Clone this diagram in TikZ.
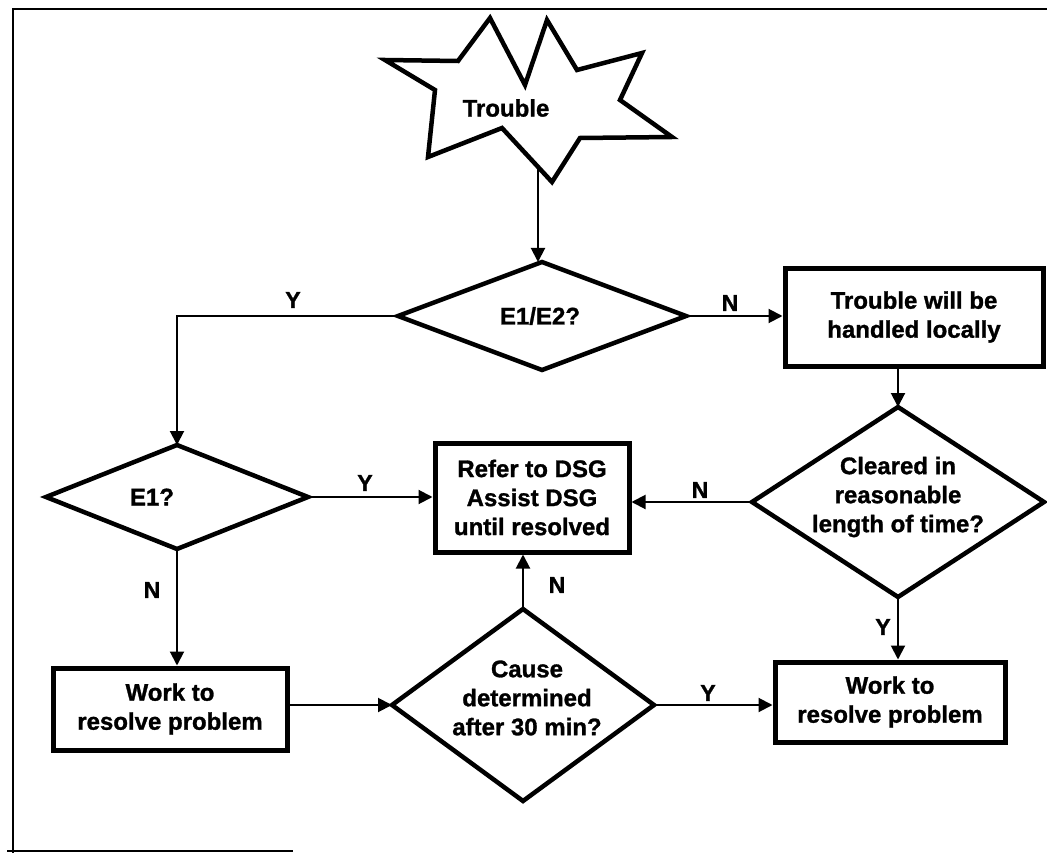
\documentclass[tikz,border=0pt]{standalone}
\usepackage{fontspec}
\setmainfont{Liberation Sans}[BoldFeatures={FakeBold=1.2}]
\usetikzlibrary{shapes.geometric,arrows.meta}
\begin{document}
\begin{tikzpicture}[x=1pt,y=-1pt,
  txt/.style={font=\fontsize{24}{29}\selectfont\bfseries, align=center, inner sep=0pt},
  lbl/.style={font=\fontsize{23}{26}\selectfont\bfseries, inner sep=0pt},
  procbox/.style={draw, line width=5pt, inner sep=0pt},
  decision/.style={draw, diamond, line width=4.5pt, inner sep=0pt, outer sep=0pt},
  arr/.style={line width=2pt, -{Triangle[length=14pt,width=14pt]}},
  conn/.style={line width=2pt}]
\useasboundingbox (0,0) rectangle (1047,853);

% page frame
\draw[line width=2.5pt] (13,853) -- (13,9) -- (1047,9);
\draw[line width=2.5pt] (7,851) -- (293,851);

% start: starburst
\draw[line width=4.5pt, line join=miter]
  (385,60) -- (458,61) -- (490,18) -- (525,85) -- (547,20) -- (577,70)
  -- (642,53) -- (620,100) -- (672,137) -- (580,138) -- (552,182)
  -- (502,128) -- (428,157) -- (435,90) -- cycle;
\node[txt] (trouble) at (506,108) {Trouble};
\coordinate (starbot) at (538,167);

% decisions
\node[decision, minimum width=288pt, minimum height=108pt] (d12) at (542,316) {};
\node[txt] (d12t) at (540,316) {E1/E2?};
\node[decision, minimum width=262pt, minimum height=104pt] (de1) at (177,497) {};
\node[txt] (de1t) at (152,497) {E1?};
\node[decision, minimum width=292pt, minimum height=190pt] (dclr) at (898,502) {};
\node[txt] (dclrt) at (898,497) {Cleared in\\reasonable\\length of time?};
\node[decision, minimum width=262pt, minimum height=192pt] (dcause) at (523,705) {};
\node[txt] (dcauset) at (527,698) {Cause\\determined\\after 30 min?};

% process boxes
\node[procbox, minimum width=258pt, minimum height=98pt] (local) at (914,317) {};
\node[txt] (localt) at (local) {Trouble will be\\handled locally};
\node[procbox, minimum width=194pt, minimum height=109pt] (refer) at (532,497.5) {};
\node[txt] (refert) at (refer) {Refer to DSG\\Assist DSG\\until resolved};
\node[procbox, minimum width=234pt, minimum height=82pt] (workL) at (170,709) {};
\node[txt] (workLt) at (workL) {Work to\\resolve problem};
\node[procbox, minimum width=230pt, minimum height=80pt] (workR) at (890,702) {};
\node[txt] (workRt) at (workR) {Work to\\resolve problem};

% connectors
\draw[arr] (starbot) -- (starbot |- d12.north);
\draw[arr] (d12.west) -| (de1.north);
\node[lbl] (ly1) at (293,300) {Y};
\draw[arr] (d12.east) -- (d12.east -| local.west);
\node[lbl] (ln1) at (730,303) {N};
\draw[arr] (dclr.north |- local.south) -- (dclr.north);
\draw[arr] (dclr.west) -- (dclr.west -| refer.east);
\node[lbl] (ln2) at (700,490) {N};
\draw[arr] (de1.east) -- (de1.east -| refer.west);
\node[lbl] (ly2) at (365,483) {Y};
\draw[arr] (de1.south) -- (de1.south |- workL.north);
\node[lbl] (ln3) at (152,590) {N};
\draw[arr] (workL.east |- dcause.west) -- (dcause.west);
\draw[arr] (dcause.north) -- (dcause.north |- refer.south);
\node[lbl] (ln4) at (557,585) {N};
\draw[arr] (dcause.east) -- (dcause.east -| workR.west);
\node[lbl] (ly3) at (708,693) {Y};
\draw[arr] (dclr.south) -- (dclr.south |- workR.north);
\node[lbl] (ly4) at (883,627) {Y};
\end{tikzpicture}
\end{document}
